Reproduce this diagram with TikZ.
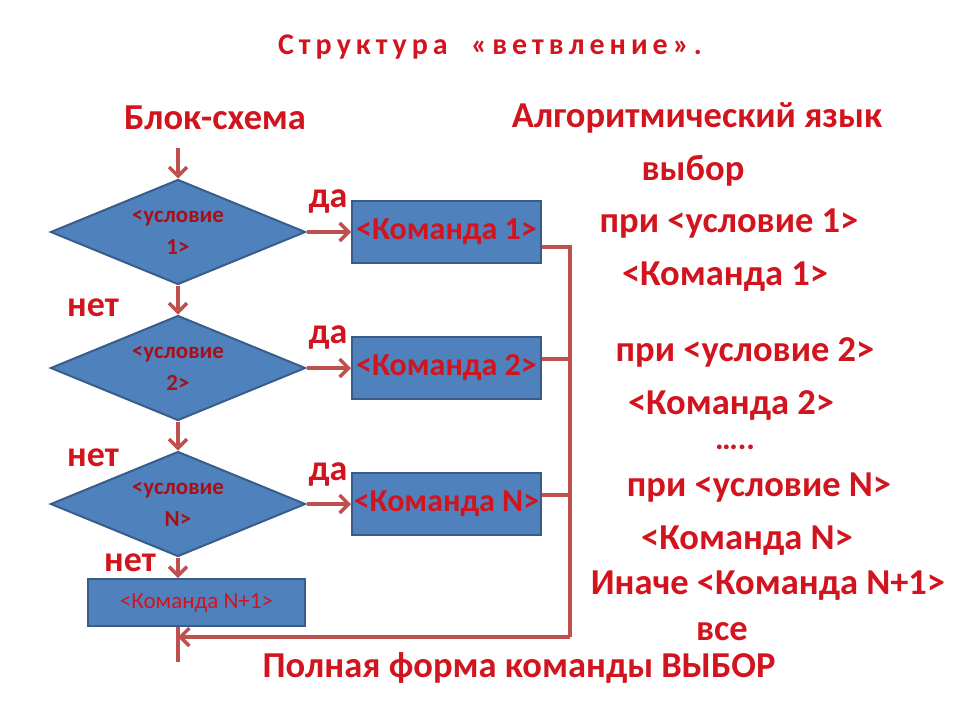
\documentclass[tikz,border=0pt]{standalone}
\usepackage{fontspec}
\setmainfont{Carlito}
\usetikzlibrary{shapes.geometric,arrows.meta}
\definecolor{tred}{RGB}{210,20,30}
\definecolor{fillb}{RGB}{79,129,189}
\definecolor{edgeb}{RGB}{56,93,138}
\definecolor{arr}{RGB}{192,80,77}
\begin{document}
\begin{tikzpicture}[x=1pt,y=-1pt,
 txt/.style={text=tred,font=\bfseries\fontsize{36.5}{40}\selectfont,inner sep=0},
 lbl/.style={text=tred,font=\bfseries\fontsize{36}{40}\selectfont,inner sep=0},
 cond/.style={diamond,aspect=2.43,fill=fillb,draw=edgeb,line width=2pt,minimum width=255,minimum height=105,inner sep=0,align=center,text=tred!80!black,font=\bfseries\fontsize{23}{32}\selectfont},
 cmd/.style={rectangle,fill=fillb,draw=edgeb,line width=2pt,minimum width=189,minimum height=62,inner sep=0,text=tred,font=\bfseries\fontsize{32}{36}\selectfont},
 link/.style={draw=arr,line width=3.5pt,-{Straight Barb[length=9pt,width=18pt,line width=3.5pt]}},
 plain/.style={draw=arr,line width=3.5pt}]
\useasboundingbox (0,0) rectangle (960,720);
\fill[white] (0,0) rectangle (960,720);
\node[text=tred,font=\bfseries\fontsize{30}{32}\selectfont,inner sep=0] (title) at (490,47) {С\,т\,р\,у\,к\,т\,у\,р\,а\;\; «\,в\,е\,т\,в\,л\,е\,н\,и\,е\,»\,.};
\node[txt] (h1) at (215,118) {Блок-схема};
\node[txt] (h2) at (697,118) {Алгоритмический язык};
\node[cond] (d1) at (178,232) {<условие\\1>};
\node[cond] (d2) at (178,368) {<условие\\2>};
\node[cond] (d3) at (178,504) {<условие\\N>};
\node[cmd] (c1) at (446.5,232) {<Команда 1>};
\node[cmd] (c2) at (446.5,368) {<Команда 2>};
\node[cmd] (c3) at (446.5,504) {<Команда N>};
\node[cmd,minimum width=217,minimum height=47,font=\fontsize{23}{26}\selectfont] (c4) at (196.5,602.5) {<Команда N+1>};
\coordinate (in) at (178,148);
\coordinate (out) at (178,662);
\coordinate (r1) at (570,247);
\coordinate (r2) at (570,359);
\coordinate (r3) at (570,495);
\coordinate (rb) at (570,637);
\coordinate (m) at (178,637);
\draw[link] (in) -- (d1.north);
\draw[link] (d1.south) -- (d2.north);
\draw[link] (d2.south) -- (d3.north);
\draw[link] (d3.south) -- (d3.south |- c4.north);
\draw[link] (d1.east) -- (c1.west);
\draw[link] (d2.east) -- (c2.west);
\draw[link] (d3.east) -- (c3.west);
\draw[plain] (c1.east |- r1) -- (r1) -- (rb);
\draw[plain] (c2.east |- r2) -- (r2);
\draw[plain] (c3.east |- r3) -- (r3);
\draw[link] (rb) -- (m);
\draw[plain] (c4.south -| m) -- (out);
\node[lbl] (y1) at (328,202) {да};
\node[lbl] (y2) at (328,338) {да};
\node[lbl] (y3) at (328,474) {да};
\node[lbl] (n1) at (93,308) {нет};
\node[lbl] (n2) at (93,458) {нет};
\node[lbl] (n3) at (130,563) {нет};
\node[txt] (a1) at (693,171) {выбор};
\node[txt] (a2) at (729,224) {при <условие 1>};
\node[txt] (a3) at (725,277) {<Команда 1>};
\node[txt] (a4) at (745,352) {при <условие 2>};
\node[txt] (a5) at (731,405) {<Команда 2>};
\node[txt,font=\bfseries\fontsize{32}{36}\selectfont] (a6) at (735,447) {…..};
\node[txt] (a7) at (759,488) {при <условие N>};
\node[txt] (a8) at (747,541) {<Команда N>};
\node[txt] (a9) at (768,586) {Иначе <Команда N+1>};
\node[txt] (a10) at (722,632) {все};
\node[txt] (bot) at (519,668) {Полная форма команды ВЫБОР};
\end{tikzpicture}
\end{document}
